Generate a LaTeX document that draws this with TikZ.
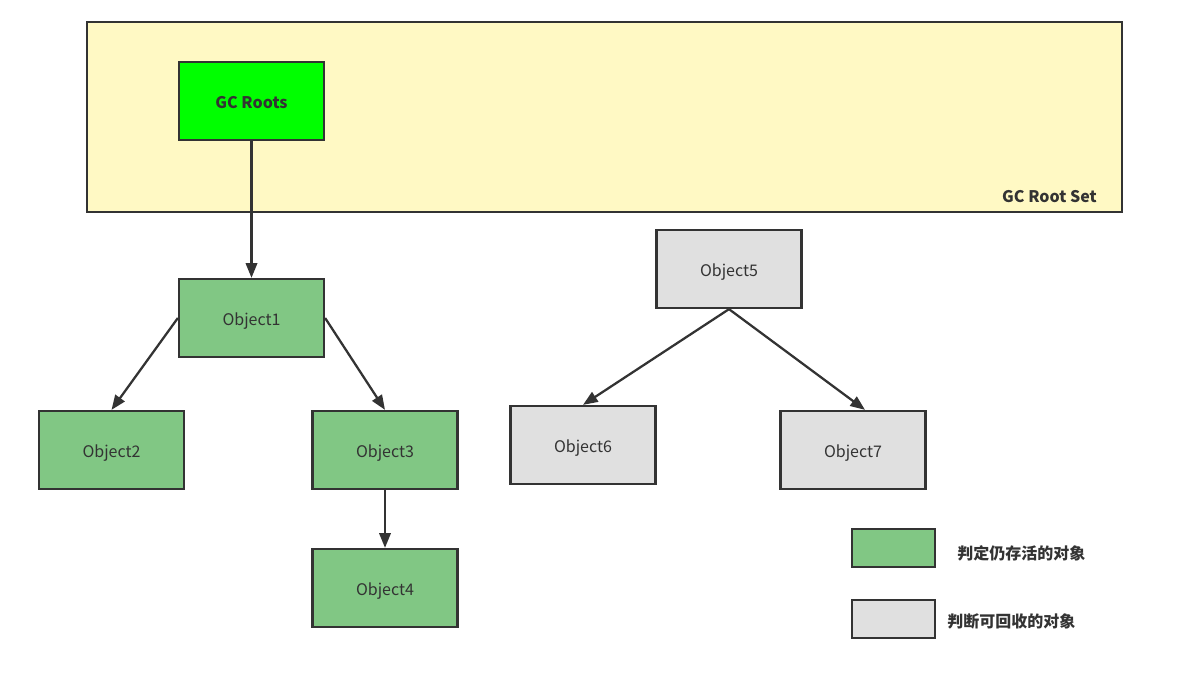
\documentclass[tikz,border=0pt]{standalone}
\usepackage{fontspec}
\setmainfont{Noto Sans CJK SC}
\usetikzlibrary{arrows.meta}
\definecolor{linegray}{HTML}{333333}
\definecolor{textgray}{HTML}{333333}
\definecolor{rootyellow}{HTML}{FFF9C4}
\definecolor{rootgreen}{HTML}{00FF00}
\definecolor{alivegreen}{HTML}{81C784}
\definecolor{deadgray}{HTML}{E0E0E0}

\begin{document}
\begin{tikzpicture}[x=0.75pt,y=-0.75pt,
    box/.style={draw=linegray, line width=1.7pt, inner sep=0pt,
      minimum width=108.75pt, minimum height=58.5pt,
      text height=11.5pt, text depth=0.5pt,
      text=textgray, font=\fontsize{12}{14}\selectfont},
    alive/.style={box, fill=alivegreen},
    dead/.style={box, fill=deadgray},
    legbox/.style={draw=linegray, line width=1.7pt, inner sep=0pt,
      minimum width=62.25pt, minimum height=28.5pt},
    legtext/.style={anchor=west, inner sep=0pt, text=textgray,
      font=\fontsize{12}{14}\selectfont\bfseries},
    ref/.style={draw=linegray, line width=1.7pt,
      -{Triangle[length=11pt,width=8.5pt]}}]
        \useasboundingbox (0,0) rectangle (1191,676);
        %insieme delle radici
        \node[draw=linegray, line width=1.7pt, fill=rootyellow, inner sep=0pt,
          minimum width=776.25pt, minimum height=142.5pt] (rootset) at (604.5,117) {};
        \node[anchor=east, inner sep=0pt, text=textgray,
          font=\fontsize{12}{14}\selectfont\bfseries] (rootsetlabel) at (1097,196.5) {GC Root Set};
        \node[box, fill=rootgreen, font=\fontsize{12}{14}\selectfont\bfseries] (gcroots) at (251.5,101) {GC Roots};
        %oggetti raggiungibili
        \node[alive] (obj1) at (251.5,318) {Object1};
        \node[alive] (obj2) at (111.5,450) {Object2};
        \node[alive] (obj3) at (385,450) {Object3};
        \node[alive] (obj4) at (385,588) {Object4};
        %oggetti non raggiungibili
        \node[dead] (obj5) at (729,269) {Object5};
        \node[dead] (obj6) at (583,445) {Object6};
        \node[dead] (obj7) at (853,450) {Object7};
        %riferimenti
        \draw[ref] (gcroots) -- (obj1);
        \draw[ref] (obj1.west) -- (obj2.north);
        \draw[ref] (obj1.east) -- (obj3.north);
        \draw[ref] (obj3) -- (obj4);
        \draw[ref] (obj5.south) -- (obj6.north);
        \draw[ref] (obj5.south) -- ([xshift=9pt]obj7.north);
        %legenda
        \node[legbox, fill=alivegreen] (legalive) at (893.5,548) {};
        \node[legtext] (legalivetext) at (957,553) {判定仍存活的对象};
        \node[legbox, fill=deadgray] (legdead) at (893.5,619) {};
        \node[legtext] (legdeadtext) at (947,621) {判断可回收的对象};
    \end{tikzpicture}
\end{document}
